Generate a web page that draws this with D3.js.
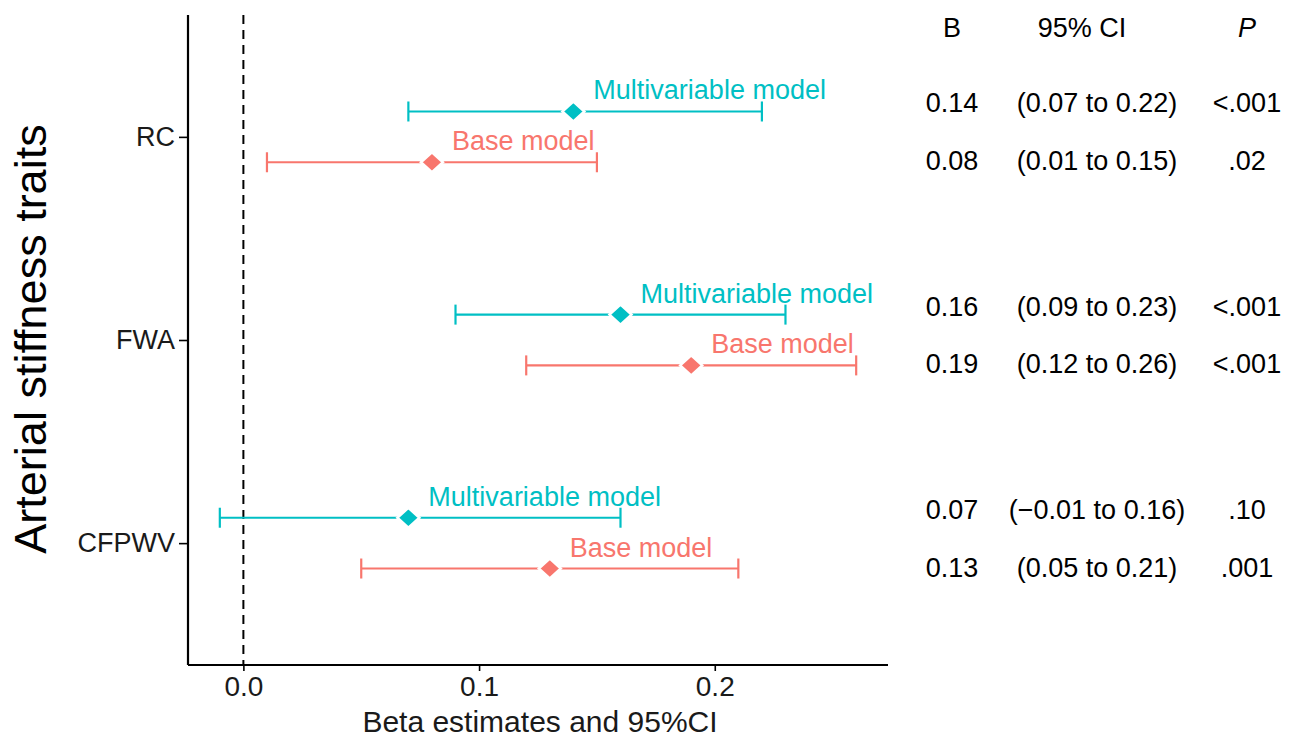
<!DOCTYPE html>
<html>
<head>
    <meta charset="utf-8" />
    <title>Arterial stiffness forest plot</title>
    <script src="https://d3js.org/d3.v7.min.js"></script>
    <style>
        body { margin: 0; background: #fff; }
        text { font-family: "Liberation Sans", Arial, sans-serif; }
    </style>
</head>
<body>
<svg width="1289" height="740"></svg>
<script>
// categories (top to bottom) and the two models
const traits = ["RC", "FWA", "CFPWV"];
const models = ["Multivariable model", "Base model"];

// multivariable model
const multiEst   = [0.14, 0.16, 0.07];
const multiLower = [0.07, 0.09, -0.01];
const multiUpper = [0.22, 0.23, 0.16];
const multiP     = ["<.001", "<.001", ".10"];

// base model
const baseEst   = [0.08, 0.19, 0.13];
const baseLower = [0.01, 0.12, 0.05];
const baseUpper = [0.15, 0.26, 0.21];
const baseP     = [".02", "<.001", ".001"];

const xTicks = [0.0, 0.1, 0.2];
const tableHeads = ["B", "95% CI", "P"];

const colors = { "Multivariable model": "#00BFC4", "Base model": "#F8766D" };

const fmt2 = v => (v < 0 ? "\u2212" : "") + Math.abs(v).toFixed(2);

// long table built from the arrays
const rows = [];
traits.forEach((t, i) => {
    rows.push({ trait: t, model: models[0], est: multiEst[i], lo: multiLower[i], hi: multiUpper[i], p: multiP[i] });
    rows.push({ trait: t, model: models[1], est: baseEst[i], lo: baseLower[i], hi: baseUpper[i], p: baseP[i] });
});

const svg = d3.select("svg");
const margin = { top: 15, left: 188, right: 401, bottom: 75 };
const width = +svg.attr("width"), height = +svg.attr("height");
const innerW = width - margin.left - margin.right;
const innerH = height - margin.top - margin.bottom;

const g = svg.append("g").attr("transform", `translate(${margin.left},${margin.top})`);

// x scale with ggplot-like 5% expansion
const lo = d3.min(rows, d => d.lo), hi = d3.max(rows, d => d.hi);
const pad = (hi - lo) * 0.05;
const x = d3.scaleLinear().domain([lo - pad, hi + pad]).range([0, innerW]);

const y = d3.scalePoint().domain(traits).range([0, innerH]).padding(0.6);
const dodge = y.step() * 0.125;
const isMulti = d => d.model === models[0];
const yPos = d => y(d.trait) + (isMulti(d) ? -dodge : dodge);

// reference line at zero
g.append("line")
    .attr("x1", x(0)).attr("x2", x(0))
    .attr("y1", 0).attr("y2", innerH)
    .attr("stroke", "#000").attr("stroke-width", 2)
    .attr("stroke-dasharray", "9,6");

// axes
const xAxis = g.append("g")
    .attr("transform", `translate(0,${innerH})`)
    .call(d3.axisBottom(x).tickValues(xTicks).tickFormat(d3.format(".1f")).tickSize(6).tickPadding(5));
const yAxis = g.append("g")
    .call(d3.axisLeft(y).tickSize(9).tickPadding(4));

[xAxis, yAxis].forEach(ax => {
    ax.select(".domain").attr("stroke-width", 2.2);
    ax.selectAll(".tick line").attr("stroke-width", 1.6);
    ax.selectAll(".tick text").attr("fill", "#1a1a1a")
        .attr("font-family", "Liberation Sans, Arial, sans-serif");
});
xAxis.selectAll(".tick text").attr("font-size", 28).attr("dy", "0.71em");
yAxis.selectAll(".tick text").attr("font-size", 27);
// plain axis lines, no end caps
xAxis.select(".domain").attr("d", `M0,0H${innerW}`);
yAxis.select(".domain").attr("d", `M0,0V${innerH}`);

// axis titles
svg.append("text")
    .attr("x", margin.left + innerW / 2 + 2)
    .attr("y", 732)
    .attr("text-anchor", "middle")
    .attr("font-size", 30)
    .attr("fill", "#1a1a1a")
    .text("Beta estimates and 95%CI");

svg.append("text")
    .attr("transform", `translate(46,${margin.top + innerH / 2 - 1}) rotate(-90)`)
    .attr("text-anchor", "middle")
    .attr("font-size", 45)
    .attr("fill", "#000")
    .text("Arterial stiffness traits");

// error bars
const capH = 10;
const bars = g.selectAll(".bar").data(rows).enter().append("g").attr("class", "bar")
    .attr("stroke", d => colors[d.model]).attr("stroke-width", 2.2);
bars.append("line")
    .attr("x1", d => x(d.lo)).attr("x2", d => x(d.hi))
    .attr("y1", yPos).attr("y2", yPos);
bars.append("line")
    .attr("x1", d => x(d.lo)).attr("x2", d => x(d.lo))
    .attr("y1", d => yPos(d) - capH).attr("y2", d => yPos(d) + capH);
bars.append("line")
    .attr("x1", d => x(d.hi)).attr("x2", d => x(d.hi))
    .attr("y1", d => yPos(d) - capH).attr("y2", d => yPos(d) + capH);

// diamonds
const dw = 11, dh = 10;
g.selectAll(".pt").data(rows).enter().append("path").attr("class", "pt")
    .attr("d", d => {
        const cx = x(d.est), cy = yPos(d);
        return `M${cx},${cy - dh}L${cx + dw},${cy}L${cx},${cy + dh}L${cx - dw},${cy}Z`;
    })
    .attr("fill", d => colors[d.model])
    .attr("stroke", "#fff").attr("stroke-width", 2.5);

// model labels
g.selectAll(".lbl").data(rows).enter().append("text").attr("class", "lbl")
    .attr("x", d => x(d.est) + 20)
    .attr("y", d => yPos(d) - 12)
    .attr("font-size", 27)
    .attr("fill", d => colors[d.model])
    .text(d => d.model);

// table on the right
const colX = [952, 1097, 1247];
const headX = [952, 1082, 1247];
svg.selectAll(".head").data(tableHeads).enter().append("text").attr("class", "head")
    .attr("x", (d, i) => headX[i])
    .attr("y", 37)
    .attr("text-anchor", "middle")
    .attr("font-size", 27)
    .attr("font-style", (d, i) => i === 2 ? "italic" : "normal")
    .attr("fill", "#000")
    .text(d => d);

const tbl = svg.append("g").attr("transform", `translate(0,${margin.top})`);
rows.forEach(r => {
    const cells = [fmt2(r.est), `(${fmt2(r.lo)} to ${fmt2(r.hi)})`, r.p];
    cells.forEach((c, i) => {
        tbl.append("text")
            .attr("x", colX[i])
            .attr("y", yPos(r) + (isMulti(r) ? 1 : 8))
            .attr("text-anchor", "middle")
            .attr("font-size", 27)
            .attr("fill", "#000")
            .text(c);
    });
});
</script>
</body>
</html>
